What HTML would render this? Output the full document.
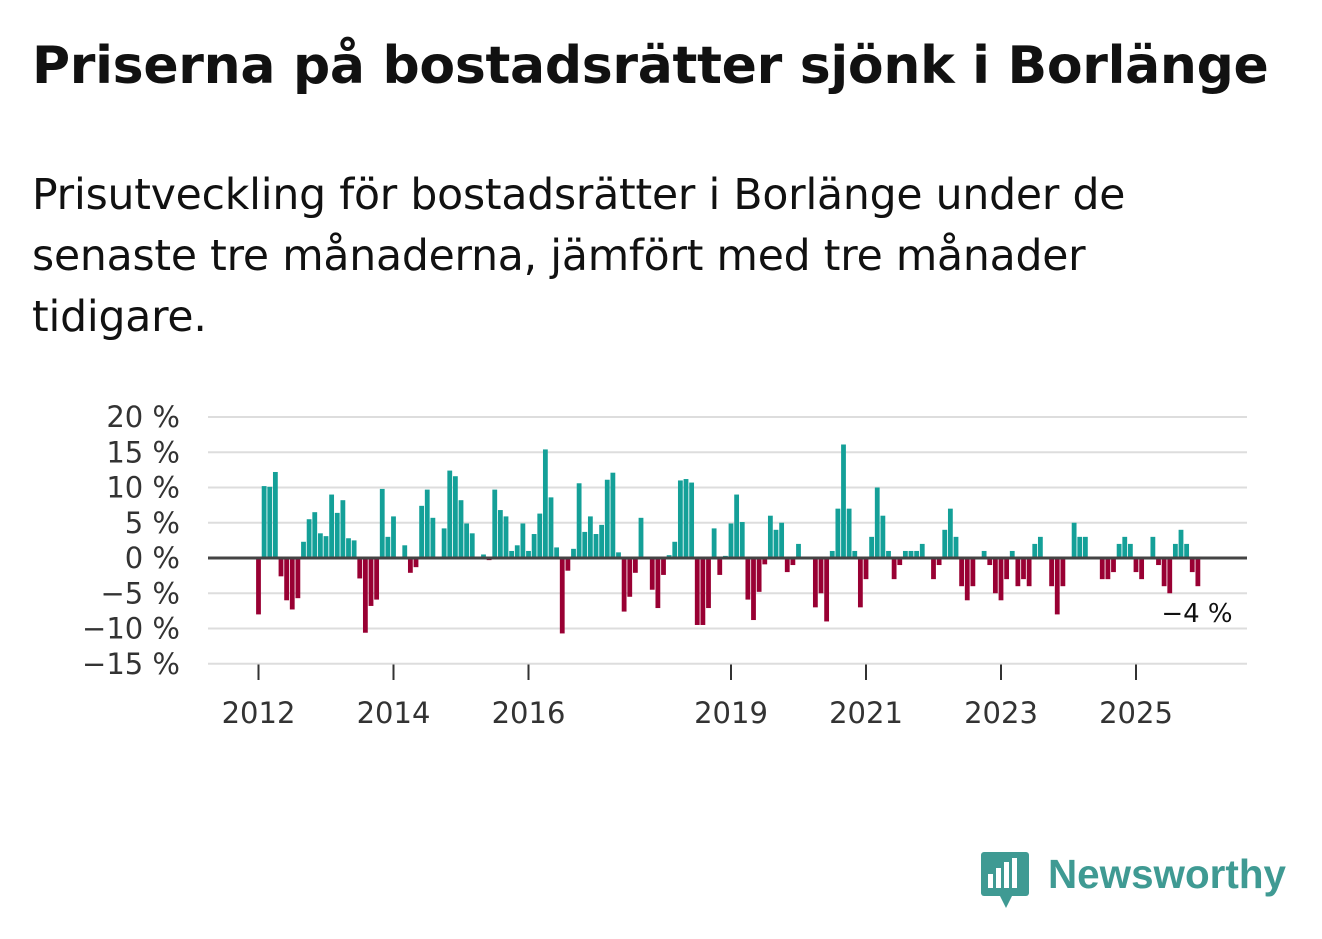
<!DOCTYPE html>
<html><head><meta charset="utf-8"><style>
body{margin:0;width:1322px;height:939px;background:#fff;font-family:"Liberation Sans","DejaVu Sans",sans-serif;color:#111;position:relative;overflow:hidden}
#title{position:absolute;left:32px;top:36px;font-size:52px;font-weight:bold;margin:0;font-family:"DejaVu Sans","Liberation Sans",sans-serif;letter-spacing:-0.3px;white-space:nowrap}
#sub{position:absolute;left:32px;top:165px;font-size:42.5px;line-height:61px;width:1180px;margin:0;font-family:"DejaVu Sans","Liberation Sans",sans-serif;font-weight:normal;color:#111;letter-spacing:-0.2px}
svg{position:absolute;left:0;top:0}
</style></head><body>
<h1 id="title">Priserna på bostadsrätter sjönk i Borlänge</h1>
<p id="sub">Prisutveckling för bostadsrätter i Borlänge under de<br>senaste tre månaderna, jämfört med tre månader<br>tidigare.</p>
<svg id="chart" width="1322" height="939"></svg>
<script>
const values=[-8,10.2,10.1,12.2,-2.6,-6,-7.3,-5.7,2.3,5.5,6.5,3.5,3.1,9,6.4,8.2,2.8,2.5,-2.9,-10.6,-6.8,-5.9,9.8,3,5.9,0,1.8,-2.1,-1.3,7.4,9.7,5.7,0,4.2,12.4,11.6,8.2,4.9,3.5,0,0.5,-0.3,9.7,6.8,5.9,1,1.8,4.9,1,3.4,6.3,15.4,8.6,1.5,-10.7,-1.8,1.3,10.6,3.7,5.9,3.4,4.7,11.1,12.1,0.8,-7.6,-5.5,-2.1,5.7,0,-4.5,-7.1,-2.4,0.4,2.3,11,11.2,10.7,-9.5,-9.5,-7.1,4.2,-2.4,0.3,4.9,9,5.1,-5.9,-8.8,-4.8,-0.9,6,4,5,-2,-1,2,0,0,-7,-5,-9,1,7,16.1,7,1,-7,-3,3,10,6,1,-3,-1,1,1,1,2,0,-3,-1,4,7,3,-4,-6,-4,0,1,-1,-5,-6,-3,1,-4,-3,-4,2,3,0,-4,-8,-4,0,5,3,3,0,0,-3,-3,-2,2,3,2,-2,-3,0,3,-1,-4,-5,2,4,2,-2,-4];
const startYear=2012;
const yTicks=[20,15,10,5,0,-5,-10,-15];
const xTickYears=[2012,2014,2016,2019,2021,2023,2025];
const lastLabel="−4 %";
const svg=document.getElementById('chart');const NS='http://www.w3.org/2000/svg';
const y=v=>558-v*7.05;
const x=m=>258.5+m*5.625;
function mk(t,a){const e=document.createElementNS(NS,t);for(const k in a)e.setAttribute(k,a[k]);svg.appendChild(e);return e;}
yTicks.forEach(t=>{
 if(t!==0){const l=mk('line',{x1:208,x2:1247,y1:y(t),y2:y(t),stroke:'#dddddd','stroke-width':2});
 
 }
 const tx=mk('text',{x:180,y:y(t)+10,'text-anchor':'end','font-size':29,fill:'#333','font-family':'DejaVu Sans, Liberation Sans, sans-serif'});
 tx.textContent=(t<0?'−'+(-t):t)+' %';
 
 
});
values.forEach((v,i)=>{
 const r=mk('rect',{x:x(i)-2.4,width:4.8,y:Math.min(y(v),y(0)),height:Math.abs(y(v)-y(0)),fill:v>=0?'#14a098':'#990033'});
 
 
});
const z=mk('line',{x1:208,x2:1247,y1:y(0),y2:y(0),stroke:'#444','stroke-width':3});


xTickYears.forEach(yr=>{
 const xx=x((yr-startYear)*12);
 const tl=mk('line',{x1:xx,x2:xx,y1:664,y2:680,stroke:'#333','stroke-width':2});
 
 
 const t=mk('text',{x:xx,y:723,'text-anchor':'middle','font-size':29,fill:'#333','font-family':'DejaVu Sans, Liberation Sans, sans-serif'});
 t.textContent=yr;
 
 
});
const ax=mk('line',{x1:208,x2:1247,y1:664,y2:664,stroke:'#dddddd','stroke-width':1});


const lv=values[values.length-1];
const lt=mk('text',{x:1197,y:y(lv)+36,'text-anchor':'middle','font-size':26,fill:'#111',stroke:'#fff','stroke-width':6,'paint-order':'stroke','font-family':'DejaVu Sans, Liberation Sans, sans-serif'});
lt.textContent=lastLabel;


</script>
<svg width="1322" height="939">
 <rect x="981" y="852" width="48" height="44" rx="3" fill="#3f9a93"/>
 <polygon points="1000,896 1012,896 1006,908" fill="#3f9a93"/>
 <rect x="988" y="874" width="5" height="14" fill="#fff"/><rect x="996" y="868" width="5" height="20" fill="#fff"/><rect x="1004" y="862" width="5" height="26" fill="#fff"/><rect x="1012" y="858" width="5" height="30" fill="#fff"/>
 <text x="1048" y="888" font-size="41" font-weight="bold" fill="#3f9a93" font-family="Liberation Sans, sans-serif" textLength="238" lengthAdjust="spacingAndGlyphs">Newsworthy</text>
</svg>
</body></html>
